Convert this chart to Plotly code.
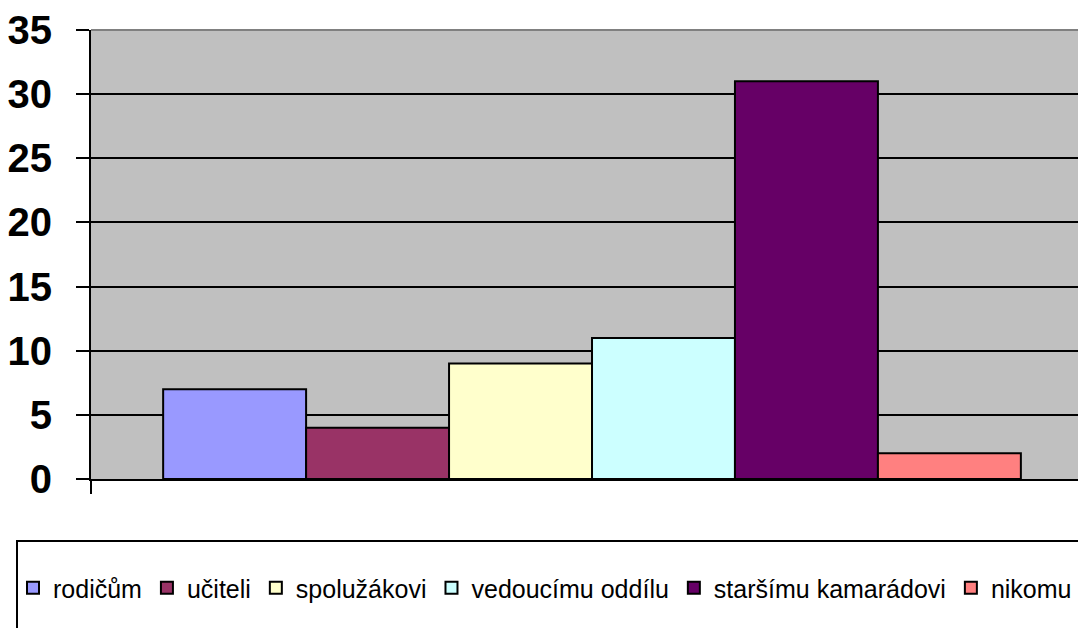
import plotly.graph_objects as go

# answers (one bar per answer, all in one group)
answers = ["rodičům", "učiteli", "spolužákovi", "vedoucímu oddílu",
           "staršímu kamarádovi", "nikomu"]
counts = [7, 4, 9, 11, 31, 2]
bar_colors = ["#9999FF", "#993366", "#FFFFCC", "#CCFFFF", "#660066", "#FF8080"]
y_ticks = [0, 5, 10, 15, 20, 25, 30, 35]

# page body has an 8px margin, so the figure is shifted by that much
OFF = 8
W, H = 1086, 628
L, R, T, B = 91, 0, 30, 149
pw, ph = W - L - R, H - T - B


def px_x(x):
    return (x - L) / pw


def px_y(y):
    return (H - B - y) / ph


FONT = "Arial, Liberation Sans, sans-serif"

fig = go.Figure()
for name, val, col in zip(answers, counts, bar_colors):
    fig.add_trace(go.Bar(x=["a"], y=[val], name=name,
                         marker=dict(color=col, line=dict(color="black", width=2))))

fig.update_layout(
    width=W - OFF, height=H - OFF, autosize=False,
    margin=dict(l=L - OFF, r=R, t=T - OFF, b=B, pad=0),
    paper_bgcolor="white", plot_bgcolor="#C0C0C0",
    barmode="group", bargap=0.144, bargroupgap=0,
    font=dict(family=FONT, color="black"),
    showlegend=True,
    legend=dict(orientation="h", x=px_x(13), xanchor="left",
                y=px_y(588), yanchor="middle",
                font=dict(size=25, family=FONT, color="black"),
                bgcolor="rgba(0,0,0,0)", borderwidth=0, traceorder="normal"),
    xaxis=dict(type="category", range=[-0.5, 0.493], showticklabels=False,
               automargin=False,
               showgrid=False, showline=True, linecolor="black", linewidth=2,
               ticks="outside", tickson="boundaries", ticklen=13,
               tickwidth=2, tickcolor="black", fixedrange=True),
    yaxis=dict(range=[0, 35], tickvals=y_ticks, showgrid=True, automargin=False,
               gridcolor="black", gridwidth=2, zeroline=False,
               showline=True, linecolor="black", linewidth=2,
               ticks="outside", ticklen=13, tickwidth=2, tickcolor="black",
               ticklabelstandoff=16,
               tickfont=dict(size=40, family=FONT, color="black", weight="bold")),
    shapes=[
        # grey top edge of the plot area
        dict(type="line", xref="paper", yref="paper", x0=0, x1=1, y0=1, y1=1,
             line=dict(color="#808080", width=2), layer="above"),
        # legend frame
        dict(type="rect", xref="paper", yref="paper",
             x0=px_x(17), x1=px_x(1080), y0=px_y(541), y1=px_y(650),
             line=dict(color="black", width=2), fillcolor="rgba(0,0,0,0)"),
    ],
)

fig.write_html("out.html")
